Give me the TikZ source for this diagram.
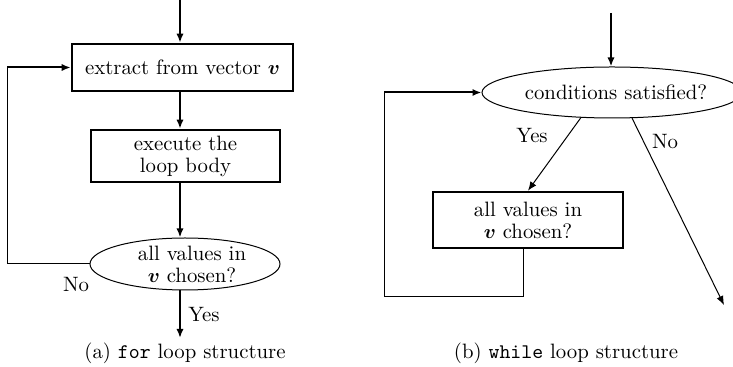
\documentclass[tikz,border=0pt]{standalone}
\usepackage{amsmath}
\usetikzlibrary{arrows.meta,shapes.geometric,calc}
\begin{document}
\begin{tikzpicture}[x=0.5pt,y=-0.5pt,
  font=\fontsize{10.4}{11}\selectfont,
  tip/.style={-{Latex[length=4.5pt,width=3.6pt]}},
  heavy/.style={line width=1pt},
  light/.style={line width=0.5pt},
  stepbox/.style={draw,line width=1.3pt,inner sep=0pt,align=center},
  decision/.style={draw,ellipse,line width=0.5pt,inner sep=0pt},
  plain/.style={inner sep=0pt,align=center}]
\useasboundingbox (0,0) rectangle (733,367);

% ---------------- (a) for loop ----------------
\coordinate (atop) at (180,0);
\node[stepbox,minimum width=110.5pt,minimum height=23.5pt] (extract) at (182.5,67.5)
  {extract from vector $\boldsymbol{v}$};
\node[stepbox,minimum width=94.5pt,minimum height=26pt] (body) at (185.5,156)
  {execute the\\loop body};
\node[decision,minimum width=95pt,minimum height=26pt] (alla) at (185,264) {};
\node[plain] (allatxt) at (192,264) {all values in\\$\boldsymbol{v}$ chosen?};
\coordinate (aexit) at (180,338);
\coordinate (aloop) at (7,67.5);

\draw[heavy,tip] (atop) -- (atop |- extract.north);
\draw[heavy,tip] (atop |- extract.south) -- (atop |- body.north);
\draw[heavy,tip] (atop |- body.south) -- (atop |- alla.north);
\draw[heavy,tip] (atop |- alla.south) -- (aexit);
\draw[light] (alla.west) -| (aloop);
\draw[heavy,tip] (aloop) -- (extract.west);

\node[plain] (ayes) at (204,315) {Yes};
\node[plain] (ano) at (76,285) {No};
\node[plain] (capa) at (185,353) {(a) \texttt{for} loop structure};

% ---------------- (b) while loop ----------------
\coordinate (btop) at (611,13);
\node[decision,minimum width=130pt,minimum height=25.5pt] (cond) at (612,92.5) {};
\node[plain] (condtxt) at (616,92) {conditions satisfied?};
\node[stepbox,minimum width=95pt,minimum height=28pt] (allb) at (528,220)
  {all values in\\$\boldsymbol{v}$ chosen?};
\coordinate (bexit) at (724,305);
\coordinate (bdown) at (523,297);
\coordinate (bloop) at (384,92.5);

\draw[heavy,tip] (btop) -- (btop |- cond.north);
\draw[light,tip] (cond.219) -- (allb.north);
\draw[light,tip] (cond.308) -- (bexit);
\draw[light] (allb.south -| bdown) -- (bdown) -| (bloop);
\draw[heavy,tip] (bloop) -- (cond.west);

\node[plain] (byes) at (532,136) {Yes};
\node[plain] (bno) at (665,142) {No};
\node[plain] (capb) at (566,353) {(b) \texttt{while} loop structure};
\end{tikzpicture}
\end{document}
